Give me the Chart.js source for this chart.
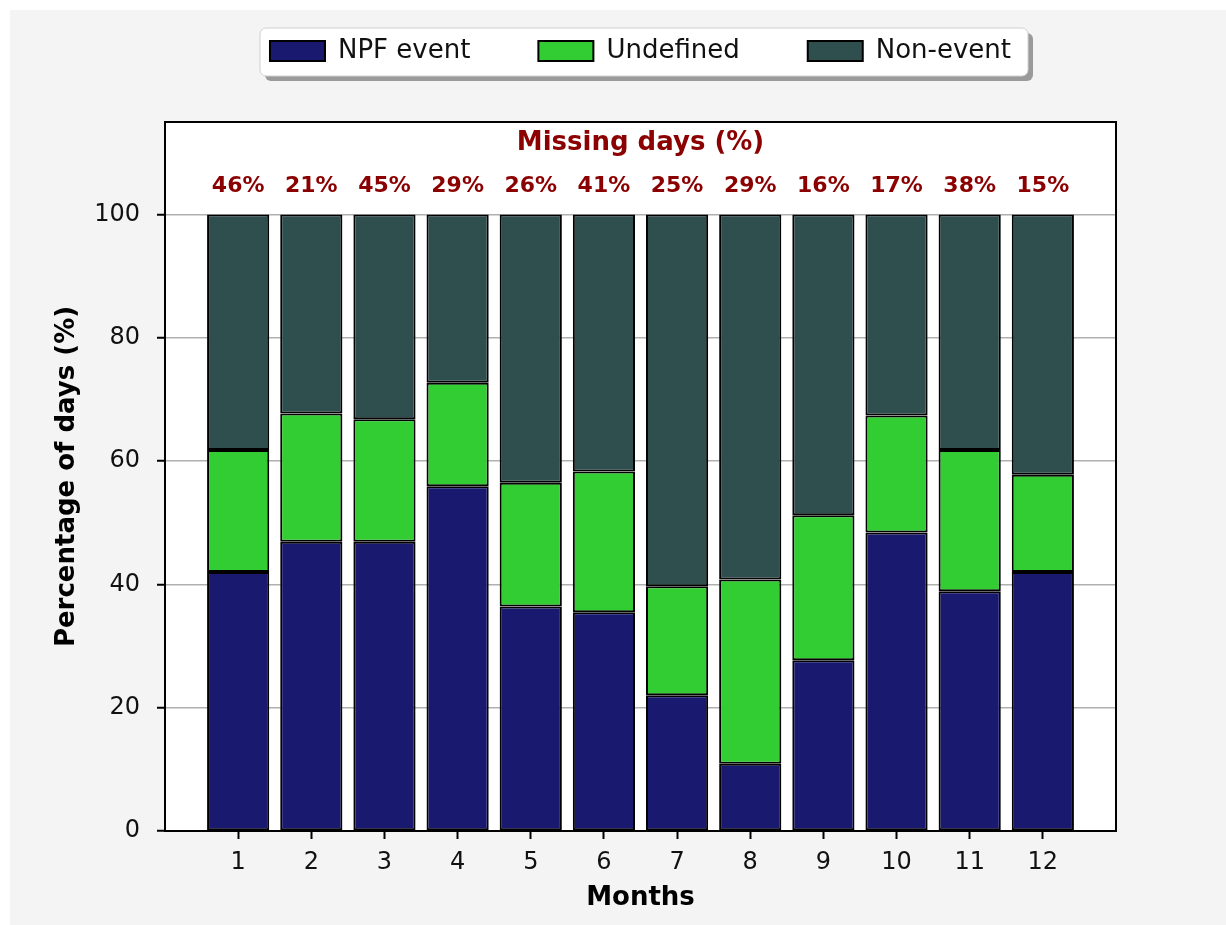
<!DOCTYPE html>
<html>
<head>
<meta charset="utf-8">
<title>NPF events by month</title>
<script src="https://cdn.jsdelivr.net/npm/chart.js@4.4.0/dist/chart.umd.min.js"></script>
<style>
  html, body { margin: 0; padding: 0; background: #fff; }
  body { position: relative; width: 1226px; height: 925px; overflow: hidden; }
  #bg { position: absolute; left: 10px; top: 10px; width: 1216px; height: 915px; background: #f4f4f4; }
  #chart { position: absolute; left: 0; top: -30px; }
</style>
</head>
<body>
<div id="bg"></div>
<canvas id="chart" width="1226" height="955"></canvas>
<script>
// Share of days (%) in each class, per month
const months = [1, 2, 3, 4, 5, 6, 7, 8, 9, 10, 11, 12];
const npfEvent = [42.0, 46.9, 46.9, 55.9, 36.4, 35.5, 22.0, 10.9, 27.7, 48.4, 38.9, 42.0];
const undefinedDays = [19.8, 20.8, 19.9, 16.8, 20.1, 22.8, 17.7, 29.9, 23.5, 19.0, 22.9, 15.8];
const nonEvent = [38.2, 32.3, 33.2, 27.3, 43.5, 41.7, 60.3, 59.2, 48.8, 32.6, 38.2, 42.2];
// Missing days (%) printed above each bar
const missingDays = [46, 21, 45, 29, 26, 41, 25, 29, 16, 17, 38, 15];
const yTicks = [0, 20, 40, 60, 80, 100];

const FONT = 'DejaVu Sans';

// White rounded legend frame with a shadow, and a fixed legend height
const legendBoxPlugin = {
  id: 'legendBox',
  beforeInit(chart) {
    const legend = chart.legend;
    const originalFit = legend.fit;
    legend.fit = function() {
      originalFit.call(this);
      this.height = 152;
    };
  },
  beforeDraw(chart) {
    const boxes = chart.legend.legendHitBoxes;
    if (!boxes || !boxes.length) return;
    const first = boxes[0];
    const last = boxes[boxes.length - 1];
    const x = first.left - 10;
    const y = first.top - 10;
    const w = last.left + last.width + 17 - x;
    const h = 48;
    const ctx = chart.ctx;
    ctx.save();
    ctx.fillStyle = '#9a9a9a';
    ctx.beginPath();
    ctx.roundRect(x + 5, y + 5, w, h, 6);
    ctx.fill();
    ctx.fillStyle = '#ffffff';
    ctx.strokeStyle = '#d0d0d0';
    ctx.lineWidth = 1;
    ctx.beginPath();
    ctx.roundRect(x, y, w, h, 6);
    ctx.fill();
    ctx.stroke();
    ctx.restore();
  }
};

// White plot area and the black box around it
const plotFramePlugin = {
  id: 'plotFrame',
  beforeDraw(chart) {
    const a = chart.chartArea;
    const ctx = chart.ctx;
    ctx.save();
    ctx.fillStyle = '#ffffff';
    ctx.fillRect(a.left, a.top, a.right - a.left, a.bottom - a.top);
    ctx.restore();
  },
  afterDatasetsDraw(chart) {
    const a = chart.chartArea;
    const ctx = chart.ctx;
    ctx.save();
    ctx.strokeStyle = '#000000';
    ctx.lineWidth = 2;
    ctx.strokeRect(a.left, a.top, a.right - a.left, a.bottom - a.top);
    ctx.restore();
  }
};

// "Missing days (%)" header and the per-month percentages
const missingDaysPlugin = {
  id: 'missingDays',
  afterDatasetsDraw(chart) {
    const xScale = chart.scales.x;
    const yScale = chart.scales.y;
    const ctx = chart.ctx;
    ctx.save();
    ctx.fillStyle = '#8b0000';
    ctx.textAlign = 'center';
    ctx.textBaseline = 'middle';
    ctx.font = 'bold 26px "' + FONT + '"';
    const a = chart.chartArea;
    ctx.fillText('Missing days (%)', (a.left + a.right) / 2, yScale.getPixelForValue(111.5));
    ctx.font = 'bold 22px "' + FONT + '"';
    months.forEach((m, i) => {
      ctx.fillText(missingDays[i] + '%', xScale.getPixelForValue(m), yScale.getPixelForValue(104.5));
    });
    ctx.restore();
  }
};

const barStyle = {
  borderColor: '#000000',
  borderWidth: 2,
  borderSkipped: false,
  barPercentage: 0.85,
  categoryPercentage: 1
};

new Chart(document.getElementById('chart'), {
  type: 'bar',
  data: {
    labels: months,
    datasets: [
      Object.assign({ label: 'NPF event', data: npfEvent, backgroundColor: '#191970' }, barStyle),
      Object.assign({ label: 'Undefined', data: undefinedDays, backgroundColor: '#32cd32' }, barStyle),
      Object.assign({ label: 'Non-event', data: nonEvent, backgroundColor: '#2f4f4f' }, barStyle)
    ]
  },
  options: {
    responsive: false,
    animation: false,
    layout: { padding: { left: 0, right: 110, top: 0, bottom: 0 } },
    plugins: {
      legend: {
        position: 'top',
        fullSize: false,
        labels: {
          boxWidth: 55,
          boxHeight: 20,
          padding: 68,
          color: '#111',
          font: { family: FONT, size: 26 }
        }
      },
      tooltip: { enabled: false }
    },
    scales: {
      x: {
        type: 'linear',
        min: 0,
        max: 13,
        stacked: true,
        offset: false,
        afterBuildTicks: s => { s.ticks = months.map(v => ({ value: v })); },
        afterFit: s => { s.height = 94; },
        grid: { offset: false, drawOnChartArea: false, drawTicks: true, tickLength: 8, tickColor: '#000', tickWidth: 2 },
        border: { display: false },
        ticks: { color: '#111', font: { family: FONT, size: 24 }, padding: 9, maxRotation: 0, autoSkip: false },
        title: {
          display: true,
          text: 'Months',
          color: '#000',
          font: { family: FONT, size: 26, weight: 'bold' },
          padding: { top: 0, bottom: 11 }
        }
      },
      y: {
        min: 0,
        max: 115,
        stacked: true,
        afterBuildTicks: s => { s.ticks = yTicks.map(v => ({ value: v })); },
        afterFit: s => { s.width = 165; },
        grid: { color: '#b0b0b0', lineWidth: 1.5, tickLength: 8, tickColor: '#000', tickWidth: 2 },
        border: { display: false },
        ticks: { color: '#111', font: { family: FONT, size: 24 }, padding: 17 },
        title: {
          display: true,
          text: 'Percentage of days (%)',
          color: '#000',
          font: { family: FONT, size: 26, weight: 'bold' },
          padding: { top: 52, bottom: 0 }
        }
      }
    }
  },
  plugins: [legendBoxPlugin, plotFramePlugin, missingDaysPlugin]
});
</script>
</body>
</html>
